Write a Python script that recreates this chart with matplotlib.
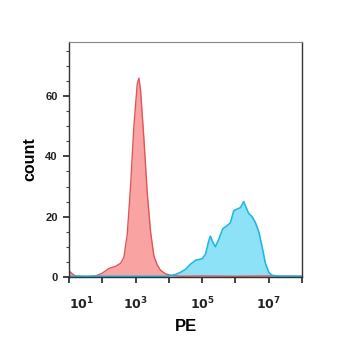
import numpy as np
import matplotlib
matplotlib.use("Agg")
import matplotlib.pyplot as plt
from matplotlib.ticker import FixedLocator, NullFormatter

plt.rcParams['font.family'] = ['Liberation Sans', 'DejaVu Sans']
plt.rcParams['mathtext.fontset'] = 'custom'
plt.rcParams['mathtext.rm'] = 'Liberation Sans:bold'
plt.rcParams['mathtext.it'] = 'Liberation Sans:bold'

# red histogram (log10 PE, count)
red_log = [1.0, 1.1, 1.2, 1.5, 1.8, 2.0, 2.2, 2.4, 2.55, 2.65, 2.75, 2.85, 2.95, 3.05, 3.1,
           3.15, 3.25, 3.35, 3.45, 3.55, 3.65, 3.75, 3.9, 4.1, 4.4, 5.0, 6.0, 7.0, 8.0]
red_cnt = [2.0, 1.0, 0.3, 0.1, 0.3, 1.2, 2.8, 3.5, 4.5, 6.5, 14, 30, 50, 64, 66,
           62, 46, 28, 15, 7, 4, 2.2, 1.0, 0.4, 0.2, 0.3, 0.2, 0.3, 0.2]

# blue histogram
blue_log = [1.0, 3.9, 4.0, 4.2, 4.35, 4.5, 4.65, 4.8, 5.0, 5.1, 5.2, 5.25, 5.32, 5.4, 5.5,
            5.62, 5.75, 5.85, 5.95, 6.05, 6.15, 6.25, 6.32, 6.4, 6.5, 6.6, 6.7, 6.8, 6.9,
            7.0, 7.1, 7.3, 8.0]
blue_cnt = [0.2, 0.2, 0.3, 0.8, 1.5, 2.5, 4.2, 5.5, 6, 7.5, 12, 13.5, 11.5, 10, 12.5,
            16, 17, 18, 22, 22.5, 23, 25, 23, 21, 20, 18, 15, 10, 4.5,
            1.5, 0.5, 0.2, 0.2]

yticks = [0, 20, 40, 60]
xlabels = [1, 3, 5, 7]

fig = plt.figure(figsize=(3.5, 3.5), dpi=100)
ax = fig.add_axes([0.197, 0.209, 0.666, 0.671])

rx = 10 ** np.array(red_log)
bx = 10 ** np.array(blue_log)
ax.fill_between(rx, red_cnt, color='#f9a3a3', lw=0)
ax.plot(rx, red_cnt, color='#e0555a', lw=1)
ax.fill_between(bx, blue_cnt, color='#8ee2f8', lw=0)
ax.plot(bx, blue_cnt, color='#22b8e2', lw=1.2)

ax.set_xscale('log')
ax.set_xlim(10, 1e8)
ax.set_ylim(0, 78)

ax.set_yticks(yticks)
ax.set_yticklabels([str(v) for v in yticks])
ax.yaxis.set_minor_locator(FixedLocator(np.arange(0, 80, 5)))
ax.set_xticks([10.0 ** e for e in range(1, 9)])
ax.set_xticklabels([r'$\mathbf{10^{%d}}$' % e if e in xlabels else '' for e in range(1, 9)])
ax.xaxis.set_minor_formatter(NullFormatter())

ax.tick_params(axis='both', which='major', direction='out', length=4.5, width=1.2,
               labelsize=8, colors='#222222')
ax.tick_params(axis='both', which='minor', direction='out', length=2.5, width=0.8,
               colors='#444444')
ax.tick_params(axis='x', which='major', pad=9, labelsize=9)
for t in ax.get_yticklabels():
    t.set_fontweight('bold')
ax.get_xticklabels()[0].set_horizontalalignment('left')

for s in ['left', 'bottom', 'right']:
    ax.spines[s].set_color('#333333')
    ax.spines[s].set_linewidth(1)
ax.spines['top'].set_color('#888888')
ax.spines['top'].set_linewidth(0.8)

ax.set_ylabel('count', fontsize=11.5, fontweight='bold', labelpad=6)
ax.set_xlabel('PE', fontsize=12, fontweight='bold', labelpad=5)

fig.savefig('out.png', dpi=100)
